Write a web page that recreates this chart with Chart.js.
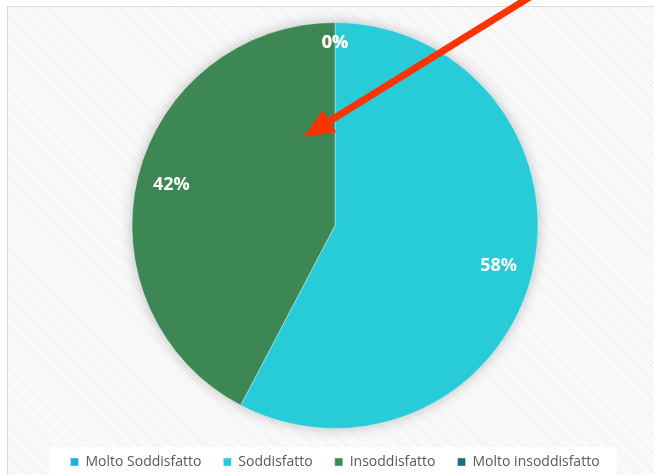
<!DOCTYPE html>
<html>
<head>
<meta charset="utf-8">
<script src="https://cdn.jsdelivr.net/npm/chart.js@4/dist/chart.umd.min.js"></script>
<style>
  html, body { margin: 0; padding: 0; background: #fff; }
  body { width: 654px; height: 475px; position: relative; overflow: hidden; }
  #frame {
    position: absolute; left: 7px; top: 6px; width: 660px; height: 480px;
    border: 1px solid #d9d9d9;
    background: repeating-linear-gradient(45deg, #f1f1f1 0px, #f1f1f1 1px, #fbfbfb 1px, #fbfbfb 3px);
  }
  #wrap { position: absolute; left: 0; top: 0; width: 654px; height: 475px; }
</style>
</head>
<body>
<div id="frame"></div>
<div id="wrap"><canvas id="pieChart"></canvas></div>
<script>
const categories = ['Molto Soddisfatto', 'Soddisfatto', 'Insoddisfatto', 'Molto insoddisfatto'];
const values = [0, 15, 11, 0];
const percentLabels = ['0%', '58%', '42%', '0%'];
const colors = ['#22aee2', '#27ccd8', '#3d8755', '#1a6a8b'];

// soft shadow under the whole pie, drawn once so slices don't shade each other
const pieShadow = {
    id: 'pieShadow',
    beforeDatasetsDraw(chart) {
        const arc = chart.getDatasetMeta(0).data[0];
        if (!arc) return;
        const ctx = chart.ctx;
        ctx.save();
        ctx.shadowColor = 'rgba(0,0,0,0.28)';
        ctx.shadowBlur = 14;
        ctx.fillStyle = '#ffffff';
        ctx.beginPath();
        ctx.arc(arc.x, arc.y, arc.outerRadius - 1, 0, Math.PI * 2);
        ctx.fill();
        ctx.restore();
    }
};

// white box behind the legend
const legendBox = {
    id: 'legendBox',
    beforeDraw(chart) {
        const boxes = chart.legend.legendHitBoxes;
        if (!boxes || !boxes.length) return;
        const first = boxes[0], last = boxes[boxes.length - 1];
        const ctx = chart.ctx;
        ctx.save();
        ctx.fillStyle = '#ffffff';
        ctx.fillRect(first.left - 21, first.top - 8, last.left + last.width - first.left + 38, 40);
        ctx.restore();
    }
};

// percentage labels inside the slices
const sliceLabels = {
    id: 'sliceLabels',
    afterDatasetsDraw(chart) {
        const ctx = chart.ctx;
        ctx.save();
        ctx.fillStyle = '#fdfdf5';
        ctx.font = 'bold 18px "Open Sans", sans-serif';
        ctx.textAlign = 'center';
        ctx.textBaseline = 'middle';
        chart.getDatasetMeta(0).data.forEach((arc, i) => {
            const mid = (arc.startAngle + arc.endAngle) / 2;
            const r = arc.outerRadius * (values[i] === 0 ? 0.9 : 0.83);
            ctx.fillText(percentLabels[i], arc.x + Math.cos(mid) * r, arc.y + Math.sin(mid) * r);
        });
        ctx.restore();
    }
};

// red arrow pasted over the chart
const arrowOverlay = {
    id: 'arrowOverlay',
    afterDraw(chart) {
        const ctx = chart.ctx;
        const x1 = 530, y1 = -3, x2 = 304, y2 = 137;
        const ang = Math.atan2(y2 - y1, x2 - x1);
        const headLen = 30, headW = 13;
        const bx = x2 - Math.cos(ang) * headLen, by = y2 - Math.sin(ang) * headLen;
        ctx.save();
        ctx.strokeStyle = '#ff3300';
        ctx.fillStyle = '#ff3300';
        ctx.lineWidth = 7;
        ctx.beginPath();
        ctx.moveTo(x1, y1);
        ctx.lineTo(bx + Math.cos(ang) * 4, by + Math.sin(ang) * 4);
        ctx.stroke();
        ctx.beginPath();
        ctx.moveTo(x2, y2);
        ctx.lineTo(bx + Math.sin(ang) * headW, by - Math.cos(ang) * headW);
        ctx.lineTo(bx - Math.sin(ang) * headW, by + Math.cos(ang) * headW);
        ctx.closePath();
        ctx.fill();
        ctx.restore();
    }
};

const ctx = document.getElementById('pieChart').getContext('2d');
const pieChart = new Chart(ctx, {
    type: 'pie',
    data: {
        labels: categories,
        datasets: [{
            data: values,
            backgroundColor: colors,
            borderColor: 'rgba(255,255,255,0.35)',
            borderWidth: 1,
            radius: 203,
        }]
    },
    options: {
        responsive: true,
        maintainAspectRatio: false,
        animation: false,
        layout: { padding: { top: 18, left: 16, right: 0, bottom: -4 } },
        plugins: {
            tooltip: { enabled: false },
            legend: {
                position: 'bottom',
                labels: {
                    boxWidth: 8,
                    boxHeight: 8,
                    padding: 22,
                    color: '#595959',
                    font: { family: '"Open Sans", sans-serif', size: 14 }
                }
            }
        }
    },
    plugins: [pieShadow, legendBox, sliceLabels, arrowOverlay]
});
</script>
</body>
</html>
